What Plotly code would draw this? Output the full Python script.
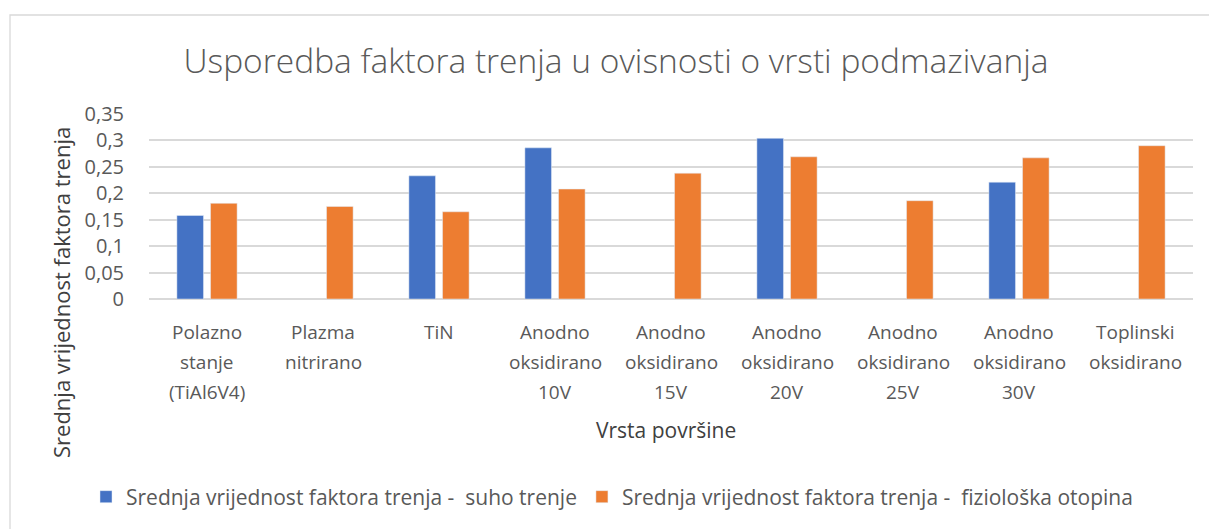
import plotly.graph_objects as go

# Surface treatments (each label split into its printed lines)
category_lines = [
    ["Polazno", "stanje", "(TiAl6V4)"],
    ["Plazma", "nitrirano"],
    ["TiN"],
    ["Anodno", "oksidirano", "10V"],
    ["Anodno", "oksidirano", "15V"],
    ["Anodno", "oksidirano", "20V"],
    ["Anodno", "oksidirano", "25V"],
    ["Anodno", "oksidirano", "30V"],
    ["Toplinski", "oksidirano"],
]
categories = [" ".join(lines) for lines in category_lines]

# Mean friction coefficient
dry_friction = [0.158, None, 0.233, 0.286, None, 0.304, None, 0.221, None]
saline_friction = [0.181, 0.175, 0.165, 0.208, 0.238, 0.269, 0.186, 0.267, 0.290]

y_ticks = [0, 0.05, 0.1, 0.15, 0.2, 0.25, 0.3, 0.35]
y_tick_text = ["0", "0,05", "0,1", "0,15", "0,2", "0,25", "0,3", "0,35"]

series_names = [
    "Srednja vrijednost faktora trenja -  suho trenje",
    "Srednja vrijednost faktora trenja -  fiziološka otopina",
]

FONT = "Open Sans"
GREY = "#595959"
GRID = "#d9d9d9"

W, H = 1209, 529
L, R, T, B = 149, 16, 114, 230
pw, ph = W - L - R, H - T - B


def px_x(p):
    return (p - L) / pw


def px_y(p):
    return (H - B - p) / ph


fig = go.Figure()
fig.add_trace(go.Bar(x=categories, y=dry_friction, name=series_names[0],
                     marker=dict(color="#4472C4")))
fig.add_trace(go.Bar(x=categories, y=saline_friction, name=series_names[1],
                     marker=dict(color="#ED7D31")))

annotations = []
# multi-line category labels under the axis
for cat, lines in zip(categories, category_lines):
    for i, line in enumerate(lines):
        annotations.append(dict(
            x=cat, y=0, xref="x", yref="y", text=line, showarrow=False,
            yanchor="middle", xanchor="center", yshift=-33 - 30 * i,
            font=dict(family=FONT, size=19, color=GREY)))

annotations.append(dict(
    x=px_x(666), y=px_y(430), xref="paper", yref="paper",
    text="Vrsta površine", showarrow=False, xanchor="center", yanchor="middle",
    font=dict(family=FONT, size=21, color="#404040")))
annotations.append(dict(
    x=px_x(61), y=px_y(293), xref="paper", yref="paper",
    text="Srednja vrijednost faktora trenja", showarrow=False, textangle=-90,
    xanchor="center", yanchor="middle",
    font=dict(family=FONT, size=22, color="#404040")))

fig.update_layout(
    width=W, height=H,
    margin=dict(l=L, r=R, t=T, b=B, pad=0),
    paper_bgcolor="white", plot_bgcolor="white",
    barmode="group", bargap=0.42, bargroupgap=0.21,
    title=dict(text="Usporedba faktora trenja u ovisnosti o vrsti podmazivanja",
               x=616 / W, xanchor="center", xref="container",
               y=1 - 61 / H, yanchor="middle", yref="container",
               font=dict(family=FONT, size=33.5, color=GREY, weight=300)),
    xaxis=dict(showticklabels=False, showgrid=False, zeroline=False,
               showline=False, ticks=""),
    yaxis=dict(range=[0, 0.35], tickvals=y_ticks, ticktext=y_tick_text,
               showgrid=True, gridcolor=GRID, gridwidth=1.5,
               zeroline=True, zerolinecolor=GRID, zerolinewidth=1.5,
               showline=False, ticks="", ticklabelstandoff=24,
               tickfont=dict(family=FONT, size=20, color=GREY)),
    legend=dict(orientation="h", x=px_x(86), y=px_y(497),
                xanchor="left", yanchor="middle",
                font=dict(family=FONT, size=21, color=GREY)),
    annotations=annotations,
    shapes=[dict(type="rect", xref="paper", yref="paper",
                 x0=px_x(10), x1=px_x(1220), y0=px_y(540), y1=px_y(15),
                 line=dict(color=GRID, width=1.3), layer="below")],
)

fig.write_html("out.html")
